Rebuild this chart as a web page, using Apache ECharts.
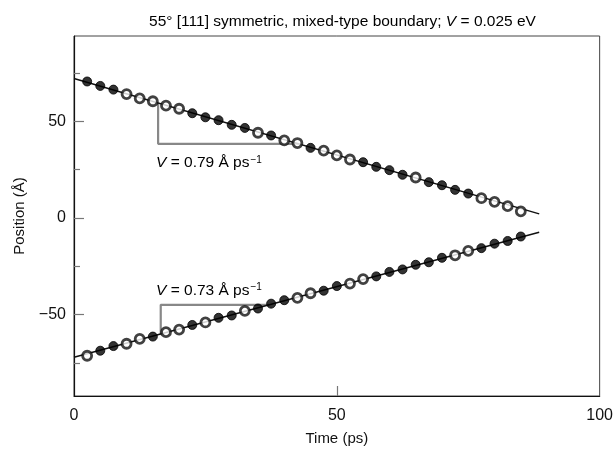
<!DOCTYPE html>
<html>
<head>
<meta charset="utf-8">
<script src="https://cdn.jsdelivr.net/npm/echarts@6/dist/echarts.min.js"></script>
<style>
html,body{margin:0;padding:0;background:#fff;}
#c{width:616px;height:451px;}
</style>
</head>
<body>
<div id="c"></div>
<script>
// ---- data ----
const times = [2.5,5,7.5,10,12.5,15,17.5,20,22.5,25,27.5,30,32.5,35,37.5,40,42.5,45,47.5,50,52.5,55,57.5,60,62.5,65,67.5,70,72.5,75,77.5,80,82.5,85];
const upperPos = [70.5,68.2,66.3,64.0,61.8,60.3,58.0,56.4,54.1,52.0,50.5,48.1,46.5,44.0,42.6,40.1,38.7,36.2,34.8,32.3,30.2,28.8,26.4,24.7,22.3,20.9,18.5,16.9,14.5,12.6,10.2,8.3,6.1,3.4];
const lowerPos = [-71.2,-68.6,-66.2,-65.0,-62.5,-61.3,-59.0,-57.7,-55.3,-54.0,-51.6,-50.4,-48.0,-46.8,-44.3,-42.5,-41.3,-38.9,-37.6,-35.2,-33.9,-31.6,-30.2,-27.9,-26.6,-24.2,-22.9,-20.6,-19.3,-17.0,-15.6,-13.3,-11.9,-9.6];
const upperFilled = [1,1,1,0,0,0,0,0,1,1,1,1,1,0,1,0,0,1,0,0,0,1,1,1,1,0,1,1,1,1,0,0,0,0];
const lowerFilled = [0,1,1,0,0,1,0,0,1,0,1,1,0,1,1,1,0,0,1,1,0,0,1,1,1,1,1,1,0,0,1,1,1,1];
const fitUpper = [[0,72.0],[88.5,2.1]];
const fitLower = [[0,-72.0],[88.5,-7.4]];
const triUpper = [[16,59.4],[16,38.3],[42.7,38.3]];
const triLower = [[16.5,-60.0],[16.5,-44.9],[37.1,-44.9]];
const labelUpper = {pos:[15.6,28.5], text:'{i|V} = 0.79 Å ps{s|−1}'};
const labelLower = {pos:[15.6,-37.5], text:'{i|V} = 0.73 Å ps{s|−1}'};
const xTickLabels = [0,50,100];
const xTicks = [50];
const yTickLabels = [-50,0,50];
const yMinorTicks = [-75,-25,25,75];

const FONT = "'Liberation Sans',Arial,sans-serif";

function pts(pos, filled){
  return times.map((t,i)=>({
    value:[t,pos[i]],
    itemStyle: filled[i] ? {color:'#000',borderColor:'#000',borderWidth:1}
                         : {color:'#fff',borderColor:'#111',borderWidth:2.8}
  }));
}
const richLbl = {
  i:{fontStyle:'italic',fontSize:15.5,fontFamily:FONT,fill:'#000'},
  s:{fontSize:10,fontFamily:FONT,fill:'#000',verticalAlign:'top',padding:[0,0,0,1]}
};

const chart = echarts.init(document.getElementById('c'),null,{renderer:'canvas'});
chart.setOption({
  animation:false,
  backgroundColor:'#fff',
  title:{
    text:'55° [111] symmetric, mixed-type boundary; {i|V} = 0.025 eV',
    left:337.5, textAlign:'center', top:9,
    textStyle:{fontSize:15.5,fontWeight:'normal',fontFamily:FONT,color:'#000',
      rich:{i:{fontStyle:'italic',fontSize:15.5,fontFamily:FONT,color:'#000'}}}
  },
  grid:{left:74,right:15,top:36,bottom:52,show:true,borderColor:'#444',borderWidth:1},
  xAxis:{
    type:'value',min:0,max:100,
    name:'Time (ps)',nameLocation:'middle',nameGap:35,
    nameTextStyle:{fontSize:15,fontFamily:FONT,color:'#111'},
    axisLine:{show:true,onZero:false,lineStyle:{color:'#111',width:1.2}},
    axisTick:{show:true,inside:true,length:10,customValues:xTicks,lineStyle:{color:'#777',width:1.2}},
    axisLabel:{customValues:xTickLabels,fontSize:16,fontFamily:FONT,color:'#111',margin:12},
    splitLine:{show:false}
  },
  yAxis:[{
    type:'value',min:-92,max:94,position:'left',
    name:'Position (Å)',nameLocation:'middle',nameGap:47,
    nameTextStyle:{fontSize:15,fontFamily:FONT,color:'#111'},
    axisLine:{show:true,onZero:false,lineStyle:{color:'#111',width:1.2}},
    axisTick:{show:true,inside:true,length:10,customValues:yTickLabels,lineStyle:{color:'#777',width:1.2}},
    axisLabel:{customValues:yTickLabels,fontSize:16,fontFamily:FONT,color:'#111',margin:8,
      formatter:v=>String(v).replace('-','−')},
    splitLine:{show:false}
  },{
    type:'value',min:-92,max:94,position:'left',
    axisLine:{show:false,onZero:false},
    axisTick:{show:true,inside:true,length:6,customValues:yMinorTicks,lineStyle:{color:'#777',width:1.2}},
    axisLabel:{show:false},
    splitLine:{show:false}
  }],
  series:[
    {type:'line',data:fitUpper,symbol:'none',lineStyle:{color:'#111',width:1.5},z:2},
    {type:'line',data:fitLower,symbol:'none',lineStyle:{color:'#111',width:1.5},z:2},
    {type:'line',data:triUpper,symbol:'none',lineStyle:{color:'#888',width:2.2},z:1},
    {type:'line',data:triLower,symbol:'none',lineStyle:{color:'#888',width:2.2},z:1},
    {type:'scatter',data:pts(upperPos,upperFilled),symbol:'circle',symbolSize:9,z:3},
    {type:'scatter',data:pts(lowerPos,lowerFilled),symbol:'circle',symbolSize:9,z:3}
  ]
});
const g = [labelUpper,labelLower].map(l=>{
  const p = chart.convertToPixel({gridIndex:0}, l.pos);
  return {type:'text',x:p[0],y:p[1],z:10,
    style:{text:l.text,fontSize:15.5,fontFamily:FONT,fill:'#000',
      align:'left',verticalAlign:'middle',rich:richLbl}};
});
chart.setOption({graphic:g});
</script>
</body>
</html>
